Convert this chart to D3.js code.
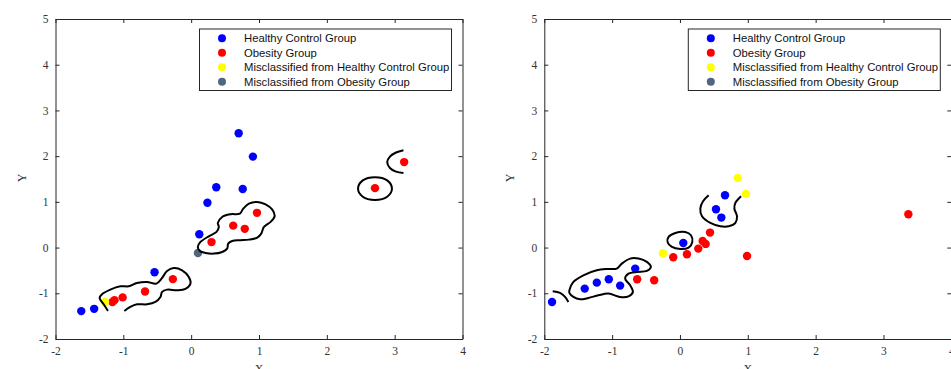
<!DOCTYPE html>
<html>
<head>
<meta charset="utf-8">
<script src="https://cdn.jsdelivr.net/npm/d3@7"></script>
<style>
  html, body { margin: 0; padding: 0; background: #fff; }
  svg { display: block; }
</style>
</head>
<body>
<svg id="chart" width="951" height="369"></svg>
<script>
// ---- axis setup ----
const xTicks = [-2, -1, 0, 1, 2, 3, 4];
const yTicks = [-2, -1, 0, 1, 2, 3, 4, 5];
const legendLabels = [
  "Healthy Control Group",
  "Obesity Group",
  "Misclassified from Healthy Control Group",
  "Misclassified from Obesity Group"
];
const groupColors = ["#0000ff", "#ff0000", "#ffff00", "#4f6580"];

// ---- left panel data ----
const leftHealthy = [
  [-1.62, -1.39], [-1.43, -1.34], [-0.54, -0.54], [0.12, 0.29], [0.24, 0.98],
  [0.37, 1.32], [0.70, 2.50], [0.91, 1.99], [0.76, 1.28]
];
const leftObesity = [
  [-1.16, -1.19], [-1.13, -1.15], [-1.01, -1.09], [-0.68, -0.96], [-0.27, -0.69],
  [0.30, 0.12], [0.62, 0.48], [0.79, 0.41], [0.97, 0.76], [2.71, 1.30], [3.14, 1.87]
];
const leftMisHealthy = [[-1.27, -1.19]];
const leftMisObesity = [[0.10, -0.12]];

// decision boundaries, left panel
const leftBoundaryLow = [
  [-1.226, -1.387], [-1.290, -1.241], [-1.350, -1.102], [-1.315, -1.022], [-1.192, -0.920],
  [-1.044, -0.847], [-0.921, -0.847], [-0.798, -0.774], [-0.650, -0.752], [-0.513, -0.788],
  [-0.429, -0.664], [-0.355, -0.511], [-0.257, -0.446], [-0.133, -0.497], [-0.035, -0.643],
  [-0.010, -0.788], [-0.084, -0.905], [-0.207, -0.934], [-0.355, -0.920], [-0.429, -0.971],
  [-0.453, -1.080], [-0.527, -1.190], [-0.650, -1.241], [-0.798, -1.241], [-0.897, -1.299],
  [-0.985, -1.387]
];
const leftBoundaryMid = [
  [0.098, 0.014], [0.137, 0.123], [0.260, 0.247], [0.374, 0.342], [0.408, 0.451],
  [0.393, 0.539], [0.457, 0.670], [0.580, 0.729], [0.718, 0.743], [0.768, 0.853],
  [0.851, 0.962], [0.974, 0.999], [1.097, 0.947], [1.196, 0.831], [1.230, 0.685],
  [1.171, 0.561], [1.073, 0.451], [1.033, 0.306], [0.974, 0.218], [0.851, 0.174],
  [0.728, 0.160], [0.605, 0.145], [0.546, 0.087], [0.531, -0.023], [0.457, -0.096],
  [0.334, -0.132], [0.211, -0.117], [0.127, -0.074]
];
const leftBoundaryRing = [
  [2.96, 1.29], [2.89, 1.47], [2.71, 1.54], [2.53, 1.47],
  [2.46, 1.29], [2.53, 1.11], [2.71, 1.04], [2.89, 1.11]
];
const leftBoundaryArc = [
  [3.13, 2.13], [3.02, 2.08], [2.93, 1.99], [2.89, 1.87],
  [2.93, 1.74], [3.02, 1.66], [3.13, 1.63]
];

// ---- right panel data ----
const rightHealthy = [
  [-1.886, -1.190], [-1.404, -0.898], [-1.226, -0.767], [-1.049, -0.694], [-0.882, -0.832],
  [-0.660, -0.460], [0.049, 0.101], [0.531, 0.838], [0.610, 0.656], [0.664, 1.144]
];
const rightObesity = [
  [-0.631, -0.694], [-0.380, -0.716], [-0.099, -0.212], [0.103, -0.147], [0.270, -0.023],
  [0.334, 0.145], [0.379, 0.080], [0.443, 0.328], [0.989, -0.183], [3.367, 0.729]
];
const rightMisHealthy = [[-0.251, -0.125], [0.851, 1.524], [0.974, 1.174]];
const rightMisObesity = [];

// decision boundaries, right panel
const rightBoundaryArc = [
  [-1.876, -0.956], [-1.768, -0.993], [-1.694, -1.080], [-1.645, -1.190]
];
const rightBoundaryLow = [
  [-1.630, -0.934], [-1.571, -0.752], [-1.424, -0.606], [-1.226, -0.497], [-1.079, -0.468],
  [-0.931, -0.460], [-0.857, -0.351], [-0.734, -0.241], [-0.611, -0.241], [-0.488, -0.314],
  [-0.429, -0.424], [-0.488, -0.511], [-0.636, -0.533], [-0.759, -0.570], [-0.808, -0.679],
  [-0.734, -0.825], [-0.694, -0.971], [-0.759, -1.066], [-0.882, -1.080], [-1.054, -1.007],
  [-1.202, -1.044], [-1.350, -1.102], [-1.473, -1.131], [-1.571, -1.080], [-1.630, -0.993]
];
const rightBoundaryRing = [
  [-0.168, 0.233], [-0.069, 0.320], [0.078, 0.342], [0.162, 0.269], [0.182, 0.123],
  [0.127, 0.000], [0.004, -0.029], [-0.119, 0.014], [-0.183, 0.123]
];
const rightBoundaryUp = [
  [0.423, 1.144], [0.340, 1.013], [0.300, 0.853], [0.325, 0.685], [0.448, 0.539],
  [0.595, 0.466], [0.718, 0.466], [0.817, 0.539], [0.841, 0.685], [0.802, 0.853],
  [0.817, 0.977], [0.901, 1.123]
];

// ---- drawing ----
const svg = d3.select("#chart");
const W = 407, H = 320, TOP = 19;
const axisColor = "#262626";
const tickFont = "'Liberation Serif', 'Times New Roman', serif";
const legendFont = "'Liberation Sans', Arial, Helvetica, sans-serif";

function drawPanel(left, groups, openCurves, closedCurves) {
  const g = svg.append("g").attr("transform", `translate(${left},${TOP})`);
  const x = d3.scaleLinear().domain([-2, 4]).range([0, W]);
  const y = d3.scaleLinear().domain([-2, 5]).range([H, 0]);

  // axes with inward ticks on all four sides; labels only bottom and left
  const tickLen = 4;
  const signed = d => (d < 0 ? "-" + Math.abs(d) : String(d));
  const bottom = g.append("g").attr("transform", `translate(0,${H})`)
    .call(d3.axisBottom(x).tickValues(xTicks).tickSizeInner(-tickLen).tickSizeOuter(0).tickPadding(8).tickFormat(signed));
  const top = g.append("g")
    .call(d3.axisTop(x).tickValues(xTicks).tickSizeInner(-tickLen).tickSizeOuter(0).tickFormat(() => ""));
  const leftAx = g.append("g")
    .call(d3.axisLeft(y).tickValues(yTicks).tickSizeInner(-tickLen).tickSizeOuter(0).tickPadding(7).tickFormat(signed));
  const rightAx = g.append("g").attr("transform", `translate(${W},0)`)
    .call(d3.axisRight(y).tickValues(yTicks).tickSizeInner(-tickLen).tickSizeOuter(0).tickFormat(() => ""));
  [bottom, top, leftAx, rightAx].forEach(a => {
    a.select(".domain").attr("stroke", axisColor).attr("stroke-width", 1);
    a.selectAll(".tick line").attr("stroke", axisColor);
    a.selectAll(".tick text").attr("fill", "#333")
      .style("font-family", tickFont).style("font-size", "11.5px");
  });

  // axis titles
  g.append("text").attr("x", W / 2).attr("y", H + 34)
    .attr("text-anchor", "middle").attr("fill", "#333")
    .style("font-family", tickFont).style("font-size", "12px").text("X");
  g.append("text").attr("transform", `translate(${-30},${H / 2 - 1}) rotate(-90)`)
    .attr("text-anchor", "middle").attr("fill", "#333")
    .style("font-family", tickFont).style("font-size", "12px").text("Y");

  // points
  groups.forEach((pts, i) => {
    g.append("g").selectAll("circle").data(pts).join("circle")
      .attr("cx", d => x(d[0])).attr("cy", d => y(d[1])).attr("r", 4.2)
      .attr("fill", groupColors[i]);
  });

  // decision boundaries
  const openLine = d3.line().x(d => x(d[0])).y(d => y(d[1])).curve(d3.curveCatmullRom.alpha(0.5));
  const closedLine = d3.line().x(d => x(d[0])).y(d => y(d[1])).curve(d3.curveCatmullRomClosed.alpha(0.5));
  openCurves.forEach(c => g.append("path").attr("d", openLine(c))
    .attr("fill", "none").attr("stroke", "#000").attr("stroke-width", 2));
  closedCurves.forEach(c => g.append("path").attr("d", closedLine(c))
    .attr("fill", "none").attr("stroke", "#000").attr("stroke-width", 2));

  // legend
  const lx = x(-2) + 144, ly = 10, lw = 252, lh = 61.5;
  const leg = g.append("g").attr("transform", `translate(${lx},${ly})`);
  leg.append("rect").attr("width", lw).attr("height", lh)
    .attr("fill", "#fff").attr("stroke", axisColor).attr("stroke-width", 1);
  legendLabels.forEach((t, i) => {
    const ry = 9.3 + i * 14.5;
    leg.append("circle").attr("cx", 22.5).attr("cy", ry).attr("r", 4).attr("fill", groupColors[i]);
    leg.append("text").attr("x", 44.5).attr("y", ry + 4).attr("fill", "#111")
      .style("font-family", legendFont).style("font-size", "11.3px").text(t);
  });
}

drawPanel(55.5,
  [leftHealthy, leftObesity, leftMisHealthy, leftMisObesity],
  [leftBoundaryLow, leftBoundaryArc],
  [leftBoundaryMid, leftBoundaryRing]);

drawPanel(544.3,
  [rightHealthy, rightObesity, rightMisHealthy, rightMisObesity],
  [rightBoundaryArc, rightBoundaryUp],
  [rightBoundaryLow, rightBoundaryRing]);
</script>
</body>
</html>
